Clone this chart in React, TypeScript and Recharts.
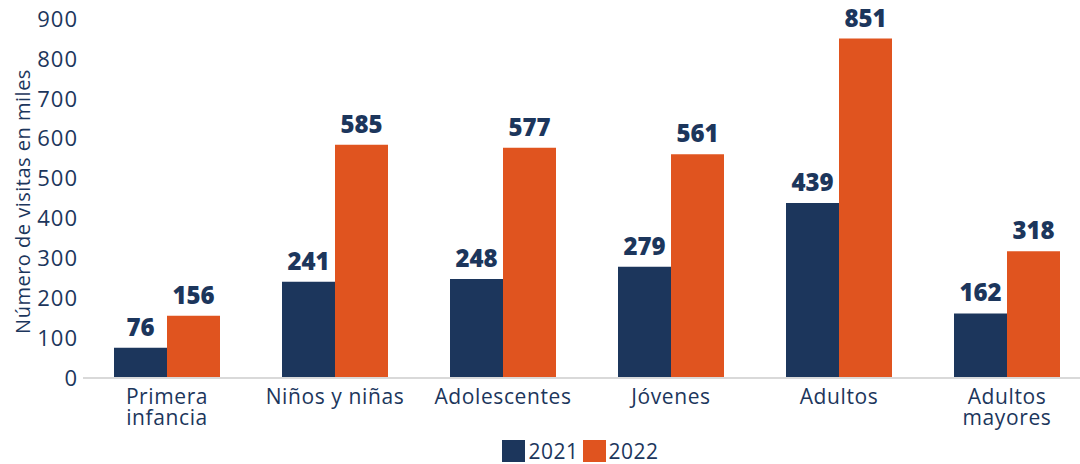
import { BarChart, Bar, XAxis, YAxis, LabelList, Legend } from 'recharts';

const categories = ['Primera\ninfancia', 'Niños y niñas', 'Adolescentes', 'Jóvenes', 'Adultos', 'Adultos\nmayores'];
const visits2021 = [76, 241, 248, 279, 439, 162];
const visits2022 = [156, 585, 577, 561, 851, 318];
const yTicks = [0, 100, 200, 300, 400, 500, 600, 700, 800, 900];

const NAVY = '#1c365c';
const ORANGE = '#e0541f';
const FONT = '"Open Sans", sans-serif';

const data = categories.map((name, i) => ({
    name,
    y2021: visits2021[i],
    y2022: visits2022[i],
}));

// x labels can wrap on two lines, each line is its own text
const CategoryTick = ({ x, y, payload }: any) => {
    const lines = String(payload.value).split('\n');
    return (
        <g>
            {lines.map((line, i) => (
                <text
                    key={i}
                    x={x}
                    y={y + 26 + i * 21}
                    textAnchor="middle"
                    fill={NAVY}
                    fontSize={21}
                    letterSpacing={0.6}
                    fontFamily={FONT}
                >
                    {line}
                </text>
            ))}
        </g>
    );
};

const LegendContent = () => (
    <div style={{ display: 'flex', justifyContent: 'center', alignItems: 'flex-start', height: 36, transform: 'translateX(37px)', fontFamily: FONT, fontSize: 21, color: NAVY }}>
        {[
            { label: '2021', color: NAVY },
            { label: '2022', color: ORANGE },
        ].map((item) => (
            <div key={item.label} style={{ display: 'flex', alignItems: 'center', marginRight: 4, marginTop: 12, height: 22 }}>
                <span style={{ display: 'inline-block', width: 23, height: 22, background: item.color, marginRight: 3 }} />
                <span style={{ lineHeight: '22px', letterSpacing: 0.5 }}>{item.label}</span>
            </div>
        ))}
    </div>
);

export default function App() {
    return (
        <div style={{ position: 'absolute', left: 0, top: 0, width: 1080, height: 464, overflow: 'hidden', background: '#fff' }}>
            <BarChart
                width={1100}
                height={464}
                data={data}
                margin={{ top: 19, right: 9, bottom: 0, left: 0 }}
                barGap={0}
                barSize={53}
            >
                <XAxis
                    dataKey="name"
                    axisLine={{ stroke: '#d9d9d9', strokeWidth: 2 }}
                    tickLine={false}
                    tickSize={0}
                    tickMargin={0}
                    height={50}
                    interval={0}
                    tick={<CategoryTick />}
                />
                <YAxis
                    width={83}
                    domain={[0, 900]}
                    ticks={yTicks}
                    axisLine={false}
                    tickLine={false}
                    tickSize={0}
                    tickMargin={5}
                    tick={{ fill: NAVY, fontSize: 22, fontFamily: FONT, letterSpacing: 1 }}
                    label={{
                        content: ({ viewBox }: any) => {
                            const cx = viewBox.x + 22;
                            const cy = viewBox.y + viewBox.height / 2 + 3;
                            return (
                                <text
                                    x={cx}
                                    y={cy}
                                    transform={`rotate(-90, ${cx}, ${cy})`}
                                    textAnchor="middle"
                                    dominantBaseline="central"
                                    fill={NAVY}
                                    fontSize={20}
                                    letterSpacing={0.5}
                                    fontFamily={FONT}
                                >
                                    Número de visitas en miles
                                </text>
                            );
                        },
                    }}
                />
                <Legend verticalAlign="bottom" height={36} content={<LegendContent />} />
                <Bar dataKey="y2021" name="2021" fill={NAVY} isAnimationActive={false}>
                    <LabelList
                        dataKey="y2021"
                        position="top"
                        offset={12}
                        fill={NAVY}
                        fontSize={24}
                        fontWeight={800}
                        fontFamily={FONT}
                    />
                </Bar>
                <Bar dataKey="y2022" name="2022" fill={ORANGE} isAnimationActive={false}>
                    <LabelList
                        dataKey="y2022"
                        position="top"
                        offset={12}
                        fill={NAVY}
                        fontSize={24}
                        fontWeight={800}
                        fontFamily={FONT}
                    />
                </Bar>
            </BarChart>
        </div>
    );
}
